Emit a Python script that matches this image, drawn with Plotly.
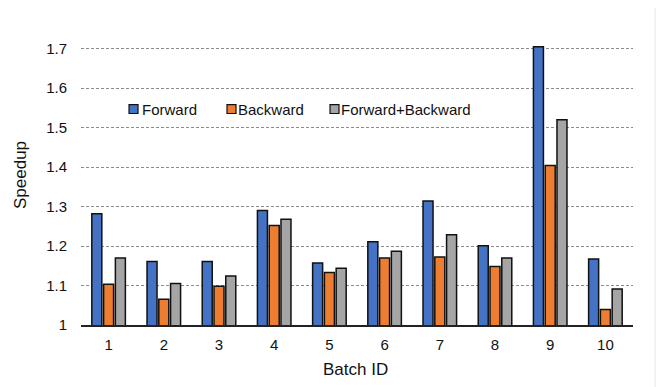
import plotly.graph_objects as go

batches = ["1", "2", "3", "4", "5", "6", "7", "8", "9", "10"]
forward = [1.282, 1.161, 1.161, 1.290, 1.157, 1.211, 1.314, 1.201, 1.705, 1.167]
backward = [1.103, 1.065, 1.098, 1.252, 1.133, 1.170, 1.172, 1.148, 1.404, 1.039]
fwd_bwd = [1.170, 1.105, 1.124, 1.268, 1.144, 1.187, 1.229, 1.170, 1.520, 1.091]
y_ticks = [1, 1.1, 1.2, 1.3, 1.4, 1.5, 1.6, 1.7]
y_tick_labels = ["1", "1.1", "1.2", "1.3", "1.4", "1.5", "1.6", "1.7"]
series_names = ["Forward", "Backward", "Forward+Backward"]
series_colors = ["#4472C4", "#ED7D31", "#A5A5A5"]
series_values = [forward, backward, fwd_bwd]

FONT = "Liberation Sans, Arial, sans-serif"

fig = go.Figure()
for name, vals, color in zip(series_names, series_values, series_colors):
    fig.add_trace(go.Bar(
        x=batches, y=vals, name=name, showlegend=False,
        marker=dict(color=color, line=dict(color="#111111", width=1.5)),
    ))

# manual legend (small squares + text), positioned in paper coordinates
legend_sq_x = [0.087, 0.2645, 0.4511]
legend_txt_x = [0.1069, 0.2808, 0.4674]
shapes = []
annotations = []
for name, color, sx, tx in zip(series_names, series_colors, legend_sq_x, legend_txt_x):
    shapes.append(dict(type="rect", xref="paper", yref="paper",
                       x0=sx, x1=sx + 0.0163, y0=0.758, y1=0.790,
                       fillcolor=color, line=dict(color="#111111", width=1.2)))
    annotations.append(dict(text=name, xref="paper", yref="paper", x=tx, y=0.774,
                            xanchor="left", yanchor="middle", showarrow=False,
                            font=dict(size=15, family=FONT, color="#111111")))

# axis titles
annotations.append(dict(text="Batch ID", xref="paper", yref="paper", x=0.498, y=-0.158,
                        xanchor="center", yanchor="middle", showarrow=False,
                        font=dict(size=17, family=FONT, color="#111111")))
annotations.append(dict(text="Speedup", xref="paper", yref="paper", x=-0.1105, y=0.5376,
                        xanchor="center", yanchor="middle", showarrow=False, textangle=-90,
                        font=dict(size=17, family=FONT, color="#111111")))

# faint frame line at right edge of the image
shapes.append(dict(type="line", xref="paper", yref="paper", x0=1.0399, x1=1.0399,
                   y0=-0.3, y1=1.2, line=dict(color="#e6e6e6", width=1)))

fig.update_layout(
    width=657, height=379,
    margin=dict(l=73, r=32, t=38, b=62),
    paper_bgcolor="white", plot_bgcolor="white",
    barmode="group", bargap=0.36, bargroupgap=0.15,
    font=dict(family=FONT, size=15, color="#111111"),
    showlegend=False,
    shapes=shapes, annotations=annotations,
)
fig.update_xaxes(
    showline=True, linecolor="#222222", linewidth=1.5, ticks="",
    tickfont=dict(size=15), showgrid=False, ticklabelstandoff=5,
)
fig.update_yaxes(
    range=[1, 1.707], tickvals=y_ticks, ticktext=y_tick_labels,
    tickfont=dict(size=15), showline=False, ticks="",
    showgrid=True, gridcolor="#8c8c8c", griddash="3px,2px", gridwidth=1,
    zeroline=False, ticklabelstandoff=13,
)

fig.write_html("out.html")
